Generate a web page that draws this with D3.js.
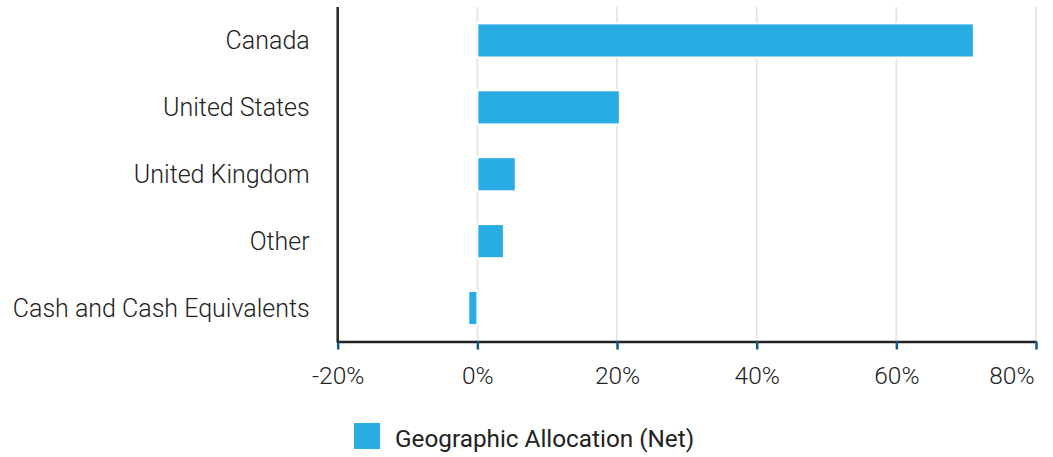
<!DOCTYPE html>
<html><head><meta charset="utf-8">
<script src="https://cdn.jsdelivr.net/npm/d3@7"></script>
<style>body{margin:0;background:#fff}svg{display:block}</style>
</head><body>
<svg id="c" width="1053" height="457"></svg>
<script>
const categories = ["Canada", "United States", "United Kingdom", "Other", "Cash and Cash Equivalents"];
const values = [71.1, 20.4, 5.5, 3.8, -1.3];
const tickValues = [-20, 0, 20, 40, 60, 80];
const seriesName = "Geographic Allocation (Net)";
const barColor = "#29ace3";

(function () {
const svg = d3.select("#c");
const pLeft = 337.7, pRight = 1036, pTop = 7, pBottom = 341.5;
const x = d3.scaleLinear().domain([-20, 80]).range([pLeft, pRight]);
const y = d3.scaleBand().domain(categories).range([pTop, pBottom]).paddingInner(0.49).paddingOuter(0.245);

// gridlines
svg.append("g").selectAll("line").data(tickValues.filter(d => d !== -20)).join("line")
  .attr("x1", d => x(d)).attr("x2", d => x(d)).attr("y1", pTop).attr("y2", pBottom)
  .attr("stroke", "#e6e6e6").attr("stroke-width", 2);

// bars
svg.append("g").selectAll("rect").data(values).join("rect")
  .attr("x", d => x(Math.min(0, d)))
  .attr("width", d => Math.abs(x(d) - x(0)))
  .attr("y", (d, i) => y(categories[i]))
  .attr("height", y.bandwidth())
  .attr("fill", barColor).attr("stroke", "#fff").attr("stroke-width", 2);

// x axis
const xAxis = d3.axisBottom(x).tickValues(tickValues).tickFormat(d => d + "%").tickSize(8).tickSizeOuter(0);
const gx = svg.append("g").attr("transform", `translate(0,${pBottom})`).call(xAxis);
gx.select(".domain").attr("stroke", "#222").attr("stroke-width", 2.5);
gx.selectAll(".tick line").attr("stroke", "#0f5c85").attr("stroke-width", 2.5);
gx.selectAll(".tick text").attr("y", 42).attr("dy", 0)
  .attr("font-family", "Roboto").attr("font-weight", 300).attr("font-size", 24.5).attr("fill", "#222")
  .attr("text-anchor", (d, i) => i === tickValues.length - 1 ? "end" : "middle")
  .attr("dx", (d, i) => i === tickValues.length - 1 ? -2 : 0);

// y axis
const yAxis = d3.axisLeft(y).tickSize(0).tickPadding(28);
const gy = svg.append("g").attr("transform", `translate(${pLeft},0)`).call(yAxis);
gy.select(".domain").attr("stroke", "#222").attr("stroke-width", 2.5).attr("d", `M0,${pTop}V${pBottom + 1}`);
gy.selectAll(".tick text").attr("dy", 8.5)
  .attr("font-family", "Roboto").attr("font-weight", 300).attr("font-size", 25).attr("fill", "#222");

// legend
const lg = svg.append("g");
lg.append("rect").attr("x", 354).attr("y", 423).attr("width", 26).attr("height", 26).attr("fill", barColor);
lg.append("text").attr("x", 395).attr("y", 447).text(seriesName)
  .attr("font-family", "Roboto").attr("font-weight", 400).attr("font-size", 24.3).attr("fill", "#222");
})();
</script>
</body></html>
